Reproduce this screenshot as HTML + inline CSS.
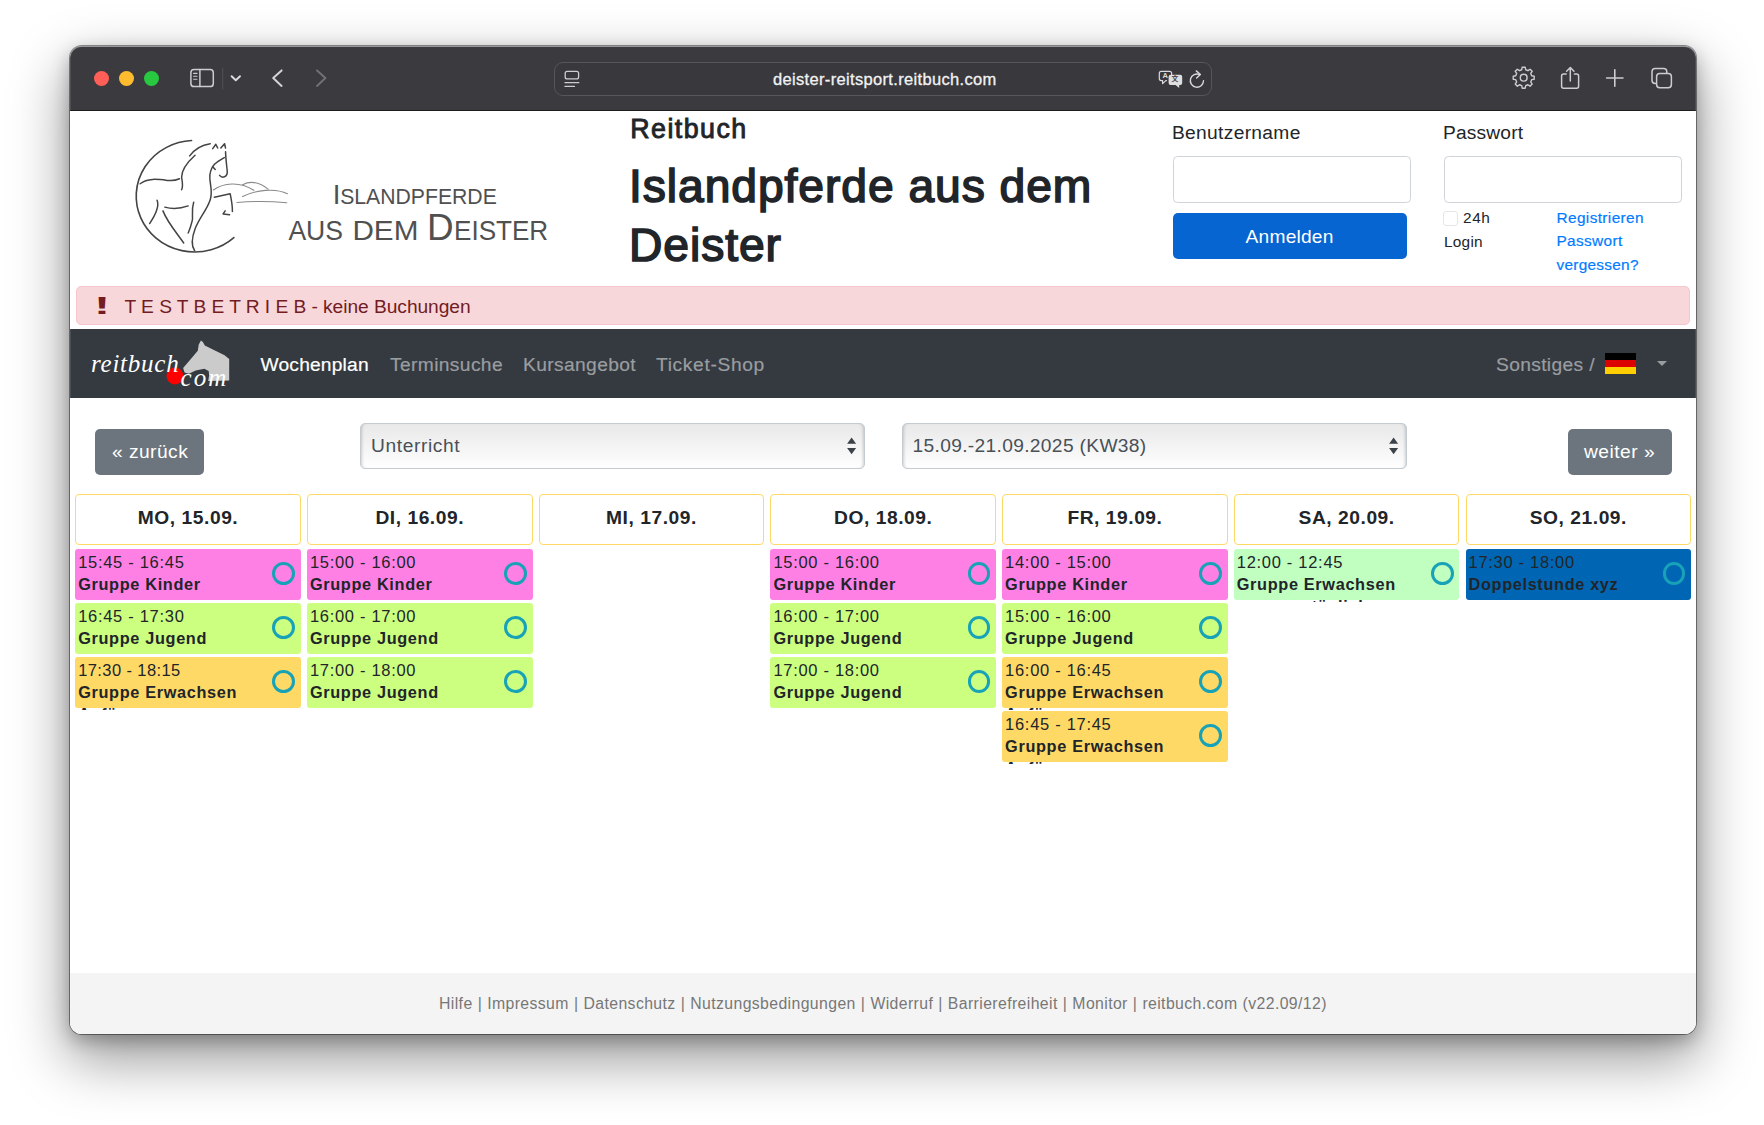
<!DOCTYPE html>
<html lang="de">
<head>
<meta charset="utf-8">
<title>Reitbuch - Islandpferde aus dem Deister</title>
<style>
*{box-sizing:border-box}
html,body{margin:0;padding:0}
body{width:1764px;height:1125px;background:#fff;overflow:hidden;position:relative;
 font-family:"Liberation Sans",sans-serif;color:#212529;font-size:19.2px;line-height:1.5}
.abs{position:absolute}
.t{position:absolute;white-space:nowrap;line-height:1}
#win{position:absolute;left:70px;top:46px;width:1626px;height:988px;border-radius:12px;overflow:hidden;background:#fff}
#shadow{position:absolute;left:70px;top:46px;width:1626px;height:988px;border-radius:12px;
 box-shadow:0 0 0 1px rgba(0,0,0,.42),0 23px 56px 3px rgba(0,0,0,.40),0 6px 18px rgba(0,0,0,.27)}
#pg{position:absolute;left:-70px;top:-46px;width:1764px;height:1125px}
#bar{position:absolute;left:70px;top:46px;width:1626px;height:65px;background:#3a3a3f;box-shadow:inset 0 1px 0 rgba(255,255,255,.22),inset 0 -1px 0 #1d1d1f}
#url{position:absolute;left:554px;top:62px;width:658px;height:34px;border-radius:9px;border:1px solid #56565b;background:#38383d}
.tl{position:absolute;top:71.3px;width:15px;height:15px;border-radius:50%}
svg{position:absolute;overflow:visible}
.nav{color:#9a9da0;font-size:19.2px;-webkit-text-stroke-width:.2px}
.ev{position:absolute;width:225.7px;height:51.1px;border-radius:3px;overflow:visible;font-size:16.3px}
.ev .a{position:absolute;left:3px;top:5px;line-height:1;white-space:nowrap;font-size:16.5px;letter-spacing:.7px}
.ev .b{position:absolute;left:3px;top:27px;line-height:1;white-space:nowrap;font-weight:bold;letter-spacing:.66px}
.ev .c{position:absolute;left:3px;top:49px;line-height:1;white-space:nowrap;font-weight:bold;height:3.4px;overflow:hidden;letter-spacing:.66px}
.ev i{position:absolute;left:197.2px;top:13.2px;width:22.8px;height:22.8px;border-radius:50%;border:3px solid #17a2b8}
.dh{position:absolute;top:494.1px;width:225.7px;height:50.6px;border:1.3px solid #ffd966;border-radius:4px;text-align:center;font-weight:bold;font-size:19.2px;line-height:45px;letter-spacing:.55px;background:#fff}
.pk{background:#ff80e4}.gr{background:#ccff80}.or{background:#ffd966}.mi{background:#c0ffc0}.bl{background:#0066b3}
.sel{position:absolute;top:423px;height:46px;border:1px solid #c3cbd3;border-radius:5px;color:#495057;
 background:linear-gradient(#e9e9e9,#f3f3f3 50%,#fff);box-shadow:inset 3px 0 3px -2px rgba(0,0,0,.18),inset -3px 0 3px -2px rgba(0,0,0,.18)}
.btn{position:absolute;border-radius:5px;color:#fff;text-align:center}
</style>
</head>
<body>
<div id="shadow"></div>
<div id="win"><div id="pg">

<!-- SAFARI TOOLBAR -->
<div id="bar"></div>
<div class="tl" style="left:94.4px;background:#ff5f57"></div>
<div class="tl" style="left:119.1px;background:#febc2e"></div>
<div class="tl" style="left:143.6px;background:#28c840"></div>
<div id="url"></div>
<div class="t" id="urltxt" style="-webkit-text-stroke:.3px #f2f2f2;letter-spacing:0.33px;left:773px;top:71px;font-size:16.5px;color:#f2f2f2">deister-reitsport.reitbuch.com</div>

<svg width="1764" height="1125" style="left:0;top:0" fill="none" stroke="#cdcdd0" stroke-width="1.5" stroke-linecap="round" stroke-linejoin="round">
<!-- sidebar -->
<rect x="190.9" y="69.6" width="22.4" height="17" rx="3.2"/>
<path d="M199.9,69.6V86.6"/>
<path d="M193.6,73.4H197M193.6,76.3H197M193.6,79.2H197" stroke-width="1.1"/>
<path d="M222.7,68V89" stroke="#515156" stroke-width="1"/>
<path d="M231.6,76.2L235.8,80.3L240,76.2" stroke="#dcdcde" stroke-width="1.9"/>
<!-- back / forward -->
<path d="M281.6,70.4L273.2,78.1L281.6,85.9" stroke="#d4d4d6" stroke-width="2"/>
<path d="M317,70.4L325.4,78.1L317,85.9" stroke="#707075" stroke-width="2"/>
<!-- reader -->
<rect x="565.2" y="71.3" width="13.4" height="7.6" rx="2" stroke-width="1.3"/>
<path d="M565,82.7H578.8M565,86.4H574.4" stroke-width="1.3"/>
<!-- translate -->
<path d="M1161.3,71.3H1169.6a2,2 0 0 1 2,2V75 M1166.5,80.6H1165.8L1162.6,83.6V80.6H1161.3a2,2 0 0 1 -2,-2V73.3a2,2 0 0 1 2,-2" stroke-width="1.2" stroke="#dadadc"/>
<path d="M1170.6,74.8H1180.2a2,2 0 0 1 2,2V83a2,2 0 0 1 -2,2H1179.2V88L1175.6,85H1170.6a2,2 0 0 1 -2,-2V76.8a2,2 0 0 1 2,-2Z" fill="#dedee0" stroke="none"/>
<!-- reload -->
<path d="M1203.5,80.8A6.6,6.6 0 1 1 1199.6,74.6" stroke-width="1.4" stroke="#d8d8da"/>
<path d="M1196.3,70.9L1200.4,74.5L1196.6,78" stroke-width="1.4" stroke="#d8d8da"/>
<!-- gear -->
<g stroke-width="1.4"><path d="M1531.66,75.72 L1534.19,76.21 L1534.19,79.19 L1531.66,79.68 L1530.73,81.93 L1532.18,84.06 L1530.06,86.18 L1527.93,84.73 L1525.68,85.66 L1525.19,88.19 L1522.21,88.19 L1521.72,85.66 L1519.47,84.73 L1517.34,86.18 L1515.22,84.06 L1516.67,81.93 L1515.74,79.68 L1513.21,79.19 L1513.21,76.21 L1515.74,75.72 L1516.67,73.47 L1515.22,71.34 L1517.34,69.22 L1519.47,70.67 L1521.72,69.74 L1522.21,67.21 L1525.19,67.21 L1525.68,69.74 L1527.93,70.67 L1530.06,69.22 L1532.18,71.34 L1530.73,73.47 Z" stroke-linejoin="round"/><circle cx="1523.7" cy="77.7" r="3.4"/></g>
<!-- share -->
<path d="M1566.2,74H1563.6a2,2 0 0 0 -2,2V86.2a2,2 0 0 0 2,2H1576.6a2,2 0 0 0 2,-2V76a2,2 0 0 0 -2,-2H1574.4"/>
<path d="M1570.3,81V67.8M1566.6,71.2L1570.3,67.5L1574,71.2"/>
<!-- plus -->
<path d="M1606.6,78H1623M1614.8,69.8V86.2" stroke-width="1.6"/>
<!-- tabs -->
<rect x="1652" y="68.6" width="14.8" height="14.8" rx="3.2"/>
<rect x="1656.6" y="73.4" width="14.8" height="14.4" rx="3.2" fill="#3a3a3f"/>
</svg>
<div class="t" style="left:1162.4px;top:72.2px;font-size:7.5px;font-weight:bold;color:#dadadc">A</div>
<div class="t" style="left:1171.6px;top:76px;font-size:6.8px;font-weight:bold;color:#3a3a3f;font-family:'Liberation Sans','Noto Sans CJK SC',sans-serif">文</div>


<!-- HEADER -->

<svg width="1764" height="1125" style="left:0;top:0" fill="none" stroke-linecap="round" stroke-linejoin="round">
<g transform="translate(120,125) scale(0.12446)" stroke="#444" stroke-width="12">
<path d="M575,125A470,448 0 1 0 915,905" stroke-width="13"/>
<path d="M560,248Q620,165 725,150"/>
<path d="M745,190L770,155L785,185M810,185L840,150L848,185" stroke-width="12"/>
<path d="M848,215C850,280 858,330 862,375C862,420 820,430 800,405"/>
<path d="M838,262C770,300 735,320 722,400C715,470 750,520 725,600C700,680 640,740 605,830C575,910 570,970 600,1010"/>
<path d="M745,335L765,358"/>
<path d="M603,243C540,300 495,360 495,420C500,460 510,490 495,520"/>
<path d="M162,472C220,425 300,435 380,445C420,450 450,445 478,432"/>
<path d="M298,605C320,660 280,730 238,792"/>
<path d="M360,660Q450,685 548,650"/>
<path d="M345,690C380,780 450,860 512,948"/>
<path d="M592,620C570,690 590,740 580,770C570,810 560,840 548,868"/>
<path d="M758,580L885,552C895,600 905,650 903,695"/>
<path d="M845,690L828,715L880,722" />
<g stroke="#8a8a8a" stroke-width="9">
<path d="M750,522C830,465 960,450 1075,525"/>
<path d="M985,480C1050,445 1120,460 1190,515"/>
<path d="M985,575C1090,520 1250,505 1345,552"/>
<path d="M940,623Q1140,605 1340,625"/>
</g>
</g>
</svg>
<svg width="1764" height="1125" style="left:0;top:0" fill="#505050" font-family="Liberation Sans, sans-serif">
<text x="332.8" y="203.7" font-size="27.5">I</text>
<text x="340.2" y="203.7" font-size="22.2" textLength="156.6" lengthAdjust="spacingAndGlyphs">SLANDPFERDE</text>
<text x="288.4" y="239.5" font-size="28.4" textLength="54.6" lengthAdjust="spacingAndGlyphs">AUS</text>
<text x="352.4" y="239.5" font-size="28.4" textLength="66" lengthAdjust="spacingAndGlyphs">DEM</text>
<text x="427" y="239.5" font-size="36.2" textLength="26.6" lengthAdjust="spacingAndGlyphs">D</text>
<text x="454" y="239.5" font-size="28.4" textLength="94.2" lengthAdjust="spacingAndGlyphs">EISTER</text>
</svg>

<div class="t" id="h4" style="letter-spacing:1.45px;left:630.3px;top:115.9px;font-size:26.8px;-webkit-text-stroke:.9px #212529">Reitbuch</div>
<div class="t" id="h1a" style="left:629px;top:163.2px;font-size:46.2px;letter-spacing:.95px;-webkit-text-stroke:1.6px #212529">Islandpferde aus dem</div>
<div class="t" id="h1b" style="left:629px;top:222px;font-size:46.2px;letter-spacing:.95px;-webkit-text-stroke:1.6px #212529">Deister</div>

<div class="t" id="lb1" style="letter-spacing:0.32px;left:1172px;top:123px;">Benutzername</div>
<div class="t" id="lb2" style="letter-spacing:0.16px;left:1443px;top:123px;">Passwort</div>
<div class="abs" style="left:1173px;top:156px;width:238px;height:46.6px;border:1.25px solid #ced4da;border-radius:4.5px;background:#fff"></div>
<div class="abs" style="left:1444px;top:156px;width:238px;height:46.6px;border:1.25px solid #ced4da;border-radius:4.5px;background:#fff"></div>
<div class="btn" style="left:1173px;top:213px;width:233.6px;height:46.2px;background:#0665d0"></div>
<div class="t" id="anm" style="letter-spacing:0.2px;left:1245.6px;top:227.3px;color:#fff;font-size:19.2px">Anmelden</div>
<div class="abs" style="left:1443.4px;top:211.3px;width:14.6px;height:14.6px;border:1px solid #e6e6e6;border-radius:3px;background:#fff"></div>
<div class="t" id="s24" style="letter-spacing:0.6px;left:1463px;top:209.8px;font-size:15.4px">24h</div>
<div class="t" id="slg" style="letter-spacing:0.24px;left:1444px;top:234px;font-size:15.4px">Login</div>
<div class="t" id="lk1" style="letter-spacing:0.37px;left:1556.5px;top:209.8px;font-size:15.4px;color:#007bff;-webkit-text-stroke:.2px #007bff">Registrieren</div>
<div class="t" id="lk2" style="letter-spacing:0.35px;left:1556.5px;top:233.2px;font-size:15.4px;color:#007bff;-webkit-text-stroke:.2px #007bff">Passwort</div>
<div class="t" id="lk3" style="letter-spacing:0.27px;left:1556.5px;top:257px;font-size:15.4px;color:#007bff;-webkit-text-stroke:.2px #007bff">vergessen?</div>

<!-- ALERT -->
<div class="abs" style="left:76.3px;top:286.2px;width:1613.5px;height:38.9px;background:#f8d7da;border:1px solid #f5c6cb;border-radius:5px"></div>
<div class="t" id="al0" style="left:94px;top:294.6px;font-weight:bold;color:#721c24;font-size:23px;transform:scaleX(2.1);transform-origin:0 0">!</div>
<div class="t" id="al1" style="letter-spacing:-0.05px;left:124.5px;top:297px;color:#721c24;font-size:19.2px">T E S T B E T R I E B - keine Buchungen</div>

<!-- NAVBAR -->
<div class="abs" style="left:70px;top:329.4px;width:1626px;height:68.3px;background:#343a40"></div>

<svg width="1764" height="1125" style="left:0;top:0">
<g transform="translate(80,330) scale(0.09638)">
<path d="M1255,108L1232,150L1222,215L1150,300L1070,395L1085,440L1130,455L1200,420L1290,403L1335,425L1340,470L1330,530L1548,525L1548,300L1500,262L1400,212L1295,162L1275,125Z" fill="#cbcbcb"/>
</g>
<circle cx="174.9" cy="376" r="8.4" fill="#ff0000"/>
</svg>
<div class="t" id="nl1" style="left:91px;top:351.4px;color:#fff;font-family:'Liberation Serif',serif;font-style:italic;font-size:25px;letter-spacing:.75px">reitbuch</div>
<div class="t" id="nl2" style="left:180.6px;top:365px;color:#fff;font-family:'Liberation Serif',serif;font-style:italic;font-size:25px;letter-spacing:2px">com</div>

<div class="t nav" id="n1" style="letter-spacing:0.2px;left:260.5px;top:354.6px;color:#fff">Wochenplan</div>
<div class="t nav" id="n2" style="letter-spacing:0.38px;left:390px;top:354.6px">Terminsuche</div>
<div class="t nav" id="n3" style="letter-spacing:0.38px;left:523px;top:354.6px">Kursangebot</div>
<div class="t nav" id="n4" style="letter-spacing:0.66px;left:656px;top:354.6px">Ticket-Shop</div>
<div class="t nav" id="n5" style="letter-spacing:.36px;left:1496px;top:354.6px">Sonstiges /</div>
<div class="abs" style="left:1605px;top:353px;width:31px;height:21px;background:linear-gradient(#000 0,#000 33.3%,#dd0000 33.3%,#dd0000 66.6%,#ffce00 66.6%)"></div>
<div class="abs" style="left:1656.6px;top:360.7px;width:0;height:0;border-left:5.2px solid transparent;border-right:5.2px solid transparent;border-top:5.4px solid rgba(255,255,255,.5)"></div>

<!-- CONTROLS -->
<div class="btn" style="left:95px;top:429px;width:109px;height:46px;background:#6c757d"></div>
<div class="t" id="bz" style="letter-spacing:0.46px;left:112px;top:442px;color:#fff">« zurück</div>
<div class="btn" style="left:1568px;top:429px;width:104px;height:46px;background:#6c757d"></div>
<div class="t" id="bw" style="letter-spacing:.5px;left:1584px;top:442px;color:#fff">weiter »</div>
<div class="sel" style="left:360px;width:505px"></div>
<div class="t" id="s1" style="letter-spacing:0.6px;left:371px;top:436px;color:#495057">Unterricht</div>
<div class="sel" style="left:902px;width:505px"></div>
<div class="t" id="s2" style="letter-spacing:0.33px;left:912.5px;top:436px;color:#495057">15.09.-21.09.2025 (KW38)</div>
<svg width="1764" height="1125" style="left:0;top:0" fill="#3b424a">
<path d="M847.1,443.8L851.6,437.6L856.1,443.8Z M847.1,448.1L856.1,448.1L851.6,454.3Z"/>
<path d="M1389.1,443.8L1393.6,437.6L1398.1,443.8Z M1389.1,448.1L1398.1,448.1L1393.6,454.3Z"/>
</svg>

<!-- DAY HEADERS -->
<div class="dh" style="left:75.2px">MO, 15.09.</div>
<div class="dh" style="left:306.9px">DI, 16.09.</div>
<div class="dh" style="left:538.6px">MI, 17.09.</div>
<div class="dh" style="left:770.4px">DO, 18.09.</div>
<div class="dh" style="left:1002.1px">FR, 19.09.</div>
<div class="dh" style="left:1233.8px">SA, 20.09.</div>
<div class="dh" style="left:1465.5px">SO, 21.09.</div>

<!-- EVENTS -->
<div class="ev pk" style="left:75.2px;top:549.3px"><span class="a">15:45 - 16:45</span><span class="b">Gruppe Kinder</span><i></i></div>
<div class="ev gr" style="left:75.2px;top:603.3px"><span class="a">16:45 - 17:30</span><span class="b">Gruppe Jugend</span><i></i></div>
<div class="ev or" style="left:75.2px;top:657.3px"><span class="a" style="letter-spacing:.4px">17:30 - 18:15</span><span class="b">Gruppe Erwachsen</span><span class="c">Anfänger</span><i></i></div>
<div class="ev pk" style="left:306.9px;top:549.3px"><span class="a">15:00 - 16:00</span><span class="b">Gruppe Kinder</span><i></i></div>
<div class="ev gr" style="left:306.9px;top:603.3px"><span class="a">16:00 - 17:00</span><span class="b">Gruppe Jugend</span><i></i></div>
<div class="ev gr" style="left:306.9px;top:657.3px"><span class="a">17:00 - 18:00</span><span class="b">Gruppe Jugend</span><i></i></div>
<div class="ev pk" style="left:770.4px;top:549.3px"><span class="a">15:00 - 16:00</span><span class="b">Gruppe Kinder</span><i></i></div>
<div class="ev gr" style="left:770.4px;top:603.3px"><span class="a">16:00 - 17:00</span><span class="b">Gruppe Jugend</span><i></i></div>
<div class="ev gr" style="left:770.4px;top:657.3px"><span class="a">17:00 - 18:00</span><span class="b">Gruppe Jugend</span><i></i></div>
<div class="ev pk" style="left:1002.1px;top:549.3px"><span class="a">14:00 - 15:00</span><span class="b">Gruppe Kinder</span><i></i></div>
<div class="ev gr" style="left:1002.1px;top:603.3px"><span class="a">15:00 - 16:00</span><span class="b">Gruppe Jugend</span><i></i></div>
<div class="ev or" style="left:1002.1px;top:657.3px"><span class="a">16:00 - 16:45</span><span class="b">Gruppe Erwachsen</span><span class="c">Anfänger</span><i></i></div>
<div class="ev or" style="left:1002.1px;top:711.3px"><span class="a">16:45 - 17:45</span><span class="b">Gruppe Erwachsen</span><span class="c">Anfänger</span><i></i></div>
<div class="ev mi" style="left:1233.8px;top:549.3px"><span class="a">12:00 - 12:45</span><span class="b">Gruppe Erwachsen</span><span class="c">nur sonntäglich</span><i></i></div>
<div class="ev bl" style="left:1465.5px;top:549.3px"><span class="a">17:30 - 18:00</span><span class="b">Doppelstunde xyz</span><i></i></div>

<!-- FOOTER -->
<div class="abs" style="left:70px;top:973px;width:1626px;height:62px;background:#f4f4f4"></div>
<div class="t" id="ft" style="word-spacing:.3px;letter-spacing:0.39px;left:439px;top:995.6px;font-size:15.8px;color:#777">Hilfe | Impressum | Datenschutz | Nutzungsbedingungen | Widerruf | Barrierefreiheit | Monitor | reitbuch.com (v22.09/12)</div>

<div class="abs" style="left:70px;top:46px;width:1626px;height:988px;border-radius:12px;box-shadow:inset 0 1px 0 rgba(255,255,255,.28),inset 0 0 0 1px rgba(255,255,255,.1)"></div>
</div></div>
</body>
</html>
